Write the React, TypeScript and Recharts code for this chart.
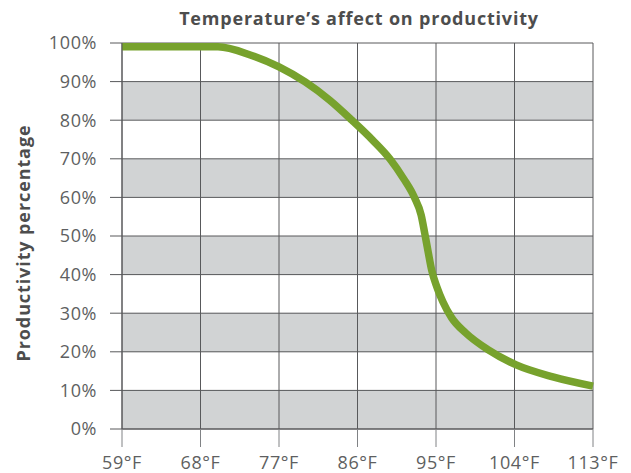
import { LineChart, Line, XAxis, YAxis, CartesianGrid } from "recharts";

// values
const temps = [59, 70, 73.7, 77, 80, 82.8, 85.4, 87.7, 89.7, 91.3, 92.5, 93.3, 93.7, 94.1, 94.5, 95.1, 95.8, 96.8, 98.4, 101, 104.2, 108.4, 113];
const productivity = [99, 99, 96.9, 93.8, 89.9, 85.2, 79.9, 74.9, 70, 64.8, 60.1, 55.4, 50.8, 45.9, 41.2, 36.8, 32.9, 28.8, 24.9, 20.5, 16.6, 13.5, 11.1];
const xTicks = [59, 68, 77, 86, 95, 104, 113];
const yTicks = [0, 10, 20, 30, 40, 50, 60, 70, 80, 90, 100];

const data = temps.map((t, i) => ({ temp: t, value: productivity[i] }));

const FONT = "'Open Sans', sans-serif";
const GREEN = "#77a22d";
const DARK = "#58595b";
const tickStyle = { fill: "#5e5f61", fontSize: 18, fontFamily: FONT, fontWeight: 400, letterSpacing: 0.6 };

export default function App() {
  return (
    <div style={{ position: "absolute", left: 0, top: 0, width: 631, height: 473, background: "#fff" }}>
      <LineChart width={631} height={473} data={data} margin={{ top: 43, right: 38, bottom: 0, left: 0 }}>
        <CartesianGrid stroke={DARK} strokeWidth={1} horizontalFill={["transparent", "#d1d3d4"]} />
        <XAxis
          dataKey="temp"
          type="number"
          domain={[59, 113]}
          ticks={xTicks}
          tickFormatter={(v) => `${v}°F`}
          height={44}
          tickSize={18}
          tickMargin={9}
          axisLine={{ stroke: DARK }}
          tickLine={{ stroke: "#808285" }}
          tick={tickStyle}
        />
        <YAxis
          type="number"
          domain={[0, 100]}
          ticks={yTicks}
          tickFormatter={(v) => `${v}%`}
          width={122}
          tickSize={12}
          tickMargin={13}
          axisLine={{ stroke: DARK }}
          tickLine={{ stroke: DARK }}
          tick={tickStyle}
        />
        <Line
          type="monotone"
          dataKey="value"
          stroke={GREEN}
          strokeWidth={7.5}
          dot={false}
          activeDot={false}
          isAnimationActive={false}
        />
      </LineChart>
      <svg width={631} height={473} style={{ position: "absolute", left: 0, top: 0, pointerEvents: "none" }}>
        <text x={359} y={25} textAnchor="middle" fontFamily={FONT} fontWeight={700} fontSize={18} letterSpacing={0.8} fill="#4d4d4d">
          Temperature’s affect on productivity
        </text>
        <text
          x={23}
          y={243}
          transform="rotate(-90, 23, 243)"
          textAnchor="middle"
          dominantBaseline="central"
          fontFamily={FONT}
          fontWeight={700}
          fontSize={18}
          letterSpacing={0.9}
          fill="#4d4d4d"
        >
          Productivity percentage
        </text>
      </svg>
    </div>
  );
}
